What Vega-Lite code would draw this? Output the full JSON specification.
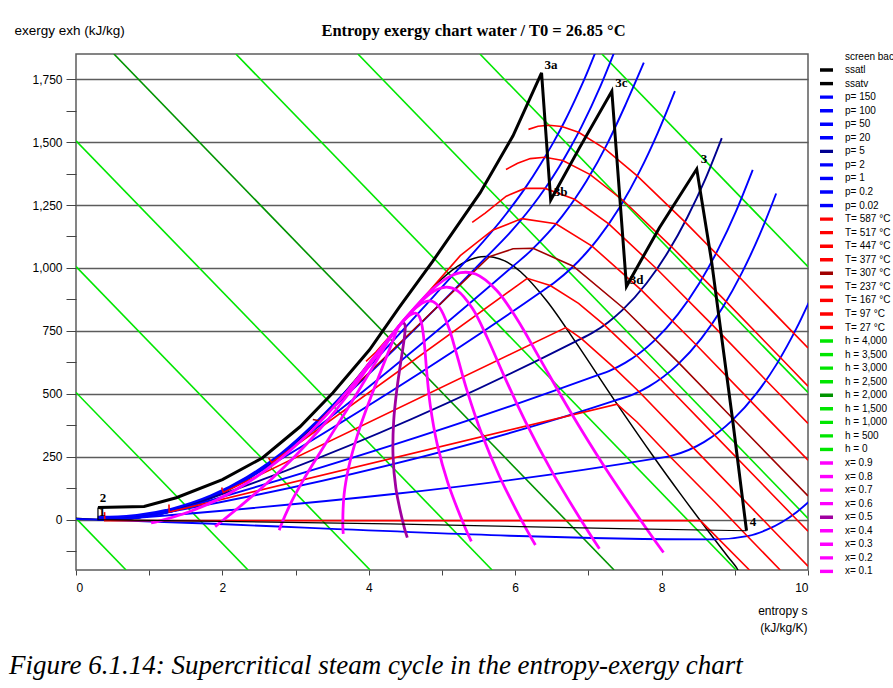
{
"$schema": "https://vega.github.io/schema/vega-lite/v6.json",
"width": 732, "height": 516,
"autosize": {"type": "none"},
"padding": {"left": 76, "top": 54, "right": 85, "bottom": 118},
"background": "white",
"title": {"text": "Figure 6.1.14: Supercritical steam cycle in the entropy-exergy chart", "orient": "bottom", "anchor": "start", "frame": "group", "font": "Liberation Serif", "fontStyle": "italic", "fontWeight": "normal", "fontSize": 27, "color": "black", "dx": -67, "offset": 20},
"config": {
  "font": "Liberation Sans",
  "view": {"stroke": "#5c5c5c", "strokeWidth": 1.5},
  "axis": {"labelFont": "Liberation Sans", "titleFont": "Liberation Sans", "labelFontSize": 12, "titleFontSize": 12, "titleFontWeight": "normal", "labelColor": "#000", "titleColor": "#000", "gridColor": "#5c5c5c", "gridWidth": 1.5, "tickColor": "#444", "domain": false}
},
"datasets": {
"h": [
{"k":"h = 4,000","i":0,"s":7.184,"e":1850},{"k":"h = 4,000","i":1,"s":10,"e":1005.3},
{"k":"h = 3,500","i":0,"s":5.518,"e":1850},{"k":"h = 3,500","i":1,"s":10,"e":505.3},
{"k":"h = 3,000","i":0,"s":3.851,"e":1850},{"k":"h = 3,000","i":1,"s":10,"e":5.3},
{"k":"h = 2,500","i":0,"s":2.184,"e":1850},{"k":"h = 2,500","i":1,"s":9.018,"e":-200},
{"k":"h = 2,000","i":0,"s":0.518,"e":1850},{"k":"h = 2,000","i":1,"s":7.351,"e":-200},
{"k":"h = 1,500","i":0,"s":0,"e":1505.3},{"k":"h = 1,500","i":1,"s":5.684,"e":-200},
{"k":"h = 1,000","i":0,"s":0,"e":1005.3},{"k":"h = 1,000","i":1,"s":4.018,"e":-200},
{"k":"h = 500","i":0,"s":0,"e":505.3},{"k":"h = 500","i":1,"s":2.351,"e":-200},
{"k":"h = 0","i":0,"s":0,"e":5.3},{"k":"h = 0","i":1,"s":0.684,"e":-200}
],
"dome": [
{"k":"ssatl","i":0,"s":0,"e":5.3},{"k":"ssatl","i":1,"s":0.2966,"e":0.3},{"k":"ssatl","i":2,"s":0.5725,"e":1.1},{"k":"ssatl","i":3,"s":0.8312,"e":7.1},{"k":"ssatl","i":4,"s":1.3069,"e":32.3},{"k":"ssatl","i":5,"s":1.8418,"e":85},{"k":"ssatl","i":6,"s":2.3309,"e":158.5},{"k":"ssatl","i":7,"s":2.7927,"e":252.9},{"k":"ssatl","i":8,"s":3.2534,"e":373.3},{"k":"ssatl","i":9,"s":3.7777,"e":542.6},{"k":"ssatl","i":10,"s":4.0139,"e":627.4},{"k":"ssatl","i":11,"s":4.4298,"e":775.7},
{"k":"ssatv","i":0,"s":4.4298,"e":775.7},{"k":"ssatv","i":1,"s":4.9269,"e":936.9},{"k":"ssatv","i":2,"s":5.0526,"e":970.5},{"k":"ssatv","i":3,"s":5.2112,"e":1005.8},{"k":"ssatv","i":4,"s":5.3357,"e":1026.6},{"k":"ssatv","i":5,"s":5.4418,"e":1038.7},{"k":"ssatv","i":6,"s":5.5362,"e":1044.5},{"k":"ssatv","i":7,"s":5.7045,"e":1042.9},{"k":"ssatv","i":8,"s":5.8571,"e":1027.8},{"k":"ssatv","i":9,"s":6.073,"e":984.9},{"k":"ssatv","i":10,"s":6.4323,"e":868.8},{"k":"ssatv","i":11,"s":6.8379,"e":700.4},{"k":"ssatv","i":12,"s":7.3549,"e":474.9},{"k":"ssatv","i":13,"s":7.9096,"e":242},{"k":"ssatv","i":14,"s":8.257,"e":102.5},{"k":"ssatv","i":15,"s":8.6672,"e":-56.8},{"k":"ssatv","i":16,"s":8.9008,"e":-145.1},{"k":"ssatv","i":17,"s":9.0257,"e":-191.8},{"k":"ssatv","i":18,"s":9.05,"e":-205}
],
"p": [
{"k":"p= 150","i":1,"s":0.297,"e":12},{"k":"p= 150","i":2,"s":0.573,"e":13},{"k":"p= 150","i":3,"s":0.831,"e":19},{"k":"p= 150","i":4,"s":1.307,"e":44},{"k":"p= 150","i":5,"s":1.842,"e":96},{"k":"p= 150","i":6,"s":2.331,"e":169},{"k":"p= 150","i":7,"s":2.793,"e":262},{"k":"p= 150","i":8,"s":3.253,"e":381},{"k":"p= 150","i":9,"s":3.685,"e":510},{"k":"p= 150","i":10,"s":5.31,"e":1023},{"k":"p= 150","i":11,"s":5.442,"e":1065},{"k":"p= 150","i":12,"s":5.881,"e":1216.5},{"k":"p= 150","i":13,"s":6.14,"e":1319},{"k":"p= 150","i":14,"s":6.344,"e":1411},{"k":"p= 150","i":15,"s":6.52,"e":1498},{"k":"p= 150","i":16,"s":6.678,"e":1584},{"k":"p= 150","i":17,"s":6.822,"e":1671},{"k":"p= 150","i":18,"s":6.957,"e":1758},{"k":"p= 150","i":19,"s":7.204,"e":1937},
{"k":"p= 100","i":1,"s":0.297,"e":8},{"k":"p= 100","i":2,"s":0.573,"e":9},{"k":"p= 100","i":3,"s":0.831,"e":15},{"k":"p= 100","i":4,"s":1.307,"e":40},{"k":"p= 100","i":5,"s":1.842,"e":92},{"k":"p= 100","i":6,"s":2.331,"e":165},{"k":"p= 100","i":7,"s":2.793,"e":258},{"k":"p= 100","i":8,"s":3.253,"e":377},{"k":"p= 100","i":9,"s":3.36,"e":405},{"k":"p= 100","i":10,"s":5.614,"e":1045.8},{"k":"p= 100","i":11,"s":5.944,"e":1145.4},{"k":"p= 100","i":12,"s":6.212,"e":1238.2},{"k":"p= 100","i":13,"s":6.419,"e":1320.5},{"k":"p= 100","i":14,"s":6.597,"e":1400},{"k":"p= 100","i":15,"s":6.756,"e":1479.4},{"k":"p= 100","i":16,"s":6.903,"e":1559.7},{"k":"p= 100","i":17,"s":7.169,"e":1725.2},{"k":"p= 100","i":18,"s":7.408,"e":1897.8},
{"k":"p= 50","i":1,"s":0.297,"e":4},{"k":"p= 50","i":2,"s":0.573,"e":5},{"k":"p= 50","i":3,"s":0.831,"e":11},{"k":"p= 50","i":4,"s":1.307,"e":36},{"k":"p= 50","i":5,"s":1.842,"e":89},{"k":"p= 50","i":6,"s":2.331,"e":162},{"k":"p= 50","i":7,"s":2.793,"e":256},{"k":"p= 50","i":8,"s":2.92,"e":283.4},{"k":"p= 50","i":9,"s":5.973,"e":1007.6},{"k":"p= 50","i":10,"s":6.211,"e":1067.7},{"k":"p= 50","i":11,"s":6.449,"e":1138.9},{"k":"p= 50","i":12,"s":6.646,"e":1207.2},{"k":"p= 50","i":13,"s":6.819,"e":1275.9},{"k":"p= 50","i":14,"s":6.976,"e":1346.3},{"k":"p= 50","i":15,"s":7.259,"e":1494.1},{"k":"p= 50","i":16,"s":7.512,"e":1651.7},{"k":"p= 50","i":17,"s":7.757,"e":1815.3},
{"k":"p= 20","i":1,"s":0.297,"e":2},{"k":"p= 20","i":2,"s":0.573,"e":3},{"k":"p= 20","i":3,"s":0.831,"e":9},{"k":"p= 20","i":4,"s":1.307,"e":34},{"k":"p= 20","i":5,"s":1.842,"e":87},{"k":"p= 20","i":6,"s":2.331,"e":160},{"k":"p= 20","i":7,"s":2.447,"e":179.9},{"k":"p= 20","i":8,"s":6.341,"e":902.5},{"k":"p= 20","i":9,"s":6.545,"e":944.2},{"k":"p= 20","i":10,"s":6.766,"e":998.9},{"k":"p= 20","i":11,"s":6.956,"e":1055.4},{"k":"p= 20","i":12,"s":7.127,"e":1114.8},{"k":"p= 20","i":13,"s":7.432,"e":1243.4},{"k":"p= 20","i":14,"s":7.702,"e":1384.7},{"k":"p= 20","i":15,"s":7.949,"e":1538.1},{"k":"p= 20","i":16,"s":8.182,"e":1702.7},
{"k":"p= 5","i":1,"s":0.297,"e":0.8},{"k":"p= 5","i":2,"s":0.573,"e":1.6},{"k":"p= 5","i":3,"s":0.831,"e":7.6},{"k":"p= 5","i":4,"s":1.307,"e":32.8},{"k":"p= 5","i":5,"s":1.861,"e":87.3},{"k":"p= 5","i":6,"s":6.821,"e":707.6},{"k":"p= 5","i":7,"s":7.059,"e":742.9},{"k":"p= 5","i":8,"s":7.271,"e":784.7},{"k":"p= 5","i":9,"s":7.46,"e":831.5},{"k":"p= 5","i":10,"s":7.794,"e":939.1},{"k":"p= 5","i":11,"s":8.087,"e":1063},{"k":"p= 5","i":12,"s":8.352,"e":1201.3},{"k":"p= 5","i":13,"s":8.597,"e":1352.6},{"k":"p= 5","i":14,"s":8.822,"e":1515.6},
{"k":"p= 2","i":1,"s":0.297,"e":0.5},{"k":"p= 2","i":2,"s":0.573,"e":1.3},{"k":"p= 2","i":3,"s":0.831,"e":7.3},{"k":"p= 2","i":4,"s":1.307,"e":32.5},{"k":"p= 2","i":5,"s":1.53,"e":51},{"k":"p= 2","i":6,"s":7.127,"e":573.9},{"k":"p= 2","i":7,"s":7.28,"e":590.2},{"k":"p= 2","i":8,"s":7.507,"e":623.8},{"k":"p= 2","i":9,"s":7.893,"e":709.3},{"k":"p= 2","i":10,"s":8.222,"e":815.4},{"k":"p= 2","i":11,"s":8.513,"e":938.4},{"k":"p= 2","i":12,"s":8.777,"e":1076.5},{"k":"p= 2","i":13,"s":9.019,"e":1227.1},{"k":"p= 2","i":14,"s":9.245,"e":1390},
{"k":"p= 1","i":1,"s":0.297,"e":0.4},{"k":"p= 1","i":2,"s":0.573,"e":1.2},{"k":"p= 1","i":3,"s":0.831,"e":7.2},{"k":"p= 1","i":4,"s":1.303,"e":32},{"k":"p= 1","i":5,"s":7.359,"e":473},{"k":"p= 1","i":6,"s":7.613,"e":497.7},{"k":"p= 1","i":7,"s":7.834,"e":530.3},{"k":"p= 1","i":8,"s":8.216,"e":614.9},{"k":"p= 1","i":9,"s":8.544,"e":720.4},{"k":"p= 1","i":10,"s":8.834,"e":843.1},{"k":"p= 1","i":11,"s":9.098,"e":981.4},{"k":"p= 1","i":12,"s":9.34,"e":1132.1},{"k":"p= 1","i":13,"s":9.565,"e":1295.9},
{"k":"p= 0.2","i":1,"s":0.297,"e":0.3},{"k":"p= 0.2","i":2,"s":0.573,"e":1.1},{"k":"p= 0.2","i":3,"s":0.832,"e":7.1},{"k":"p= 0.2","i":4,"s":7.909,"e":242.4},{"k":"p= 0.2","i":5,"s":8.128,"e":253.1},{"k":"p= 0.2","i":6,"s":8.584,"e":309},{"k":"p= 0.2","i":7,"s":8.961,"e":393.5},{"k":"p= 0.2","i":8,"s":9.288,"e":498.5},{"k":"p= 0.2","i":9,"s":9.578,"e":620.9},{"k":"p= 0.2","i":10,"s":9.84,"e":758.7},{"k":"p= 0.2","i":11,"s":10.083,"e":908.7},
{"k":"p= 0.02","i":0,"s":0,"e":3},{"k":"p= 0.02","i":1,"s":0.261,"e":0.6},{"k":"p= 0.02","i":2,"s":8.724,"e":-78.2},{"k":"p= 0.02","i":3,"s":9.191,"e":-64.4},{"k":"p= 0.02","i":4,"s":9.431,"e":-41},{"k":"p= 0.02","i":5,"s":9.647,"e":-9.2},{"k":"p= 0.02","i":6,"s":9.843,"e":29.7},{"k":"p= 0.02","i":7,"s":10.024,"e":74.6}
],
"t": [
{"k":"T= 587 °C","i":0,"s":6.181,"e":1550.5},{"k":"T= 587 °C","i":1,"s":6.312,"e":1562.7},{"k":"T= 587 °C","i":2,"s":6.46,"e":1567},{"k":"T= 587 °C","i":3,"s":6.637,"e":1562},{"k":"T= 587 °C","i":4,"s":6.865,"e":1539},{"k":"T= 587 °C","i":5,"s":7.223,"e":1474},{"k":"T= 587 °C","i":6,"s":7.667,"e":1366},{"k":"T= 587 °C","i":7,"s":8.318,"e":1183},{"k":"T= 587 °C","i":8,"s":9.064,"e":963},{"k":"T= 587 °C","i":9,"s":9.807,"e":740},{"k":"T= 587 °C","i":10,"s":10,"e":682},
{"k":"T= 517 °C","i":0,"s":5.874,"e":1391},{"k":"T= 517 °C","i":1,"s":6.033,"e":1416},{"k":"T= 517 °C","i":2,"s":6.206,"e":1434.5},{"k":"T= 517 °C","i":3,"s":6.404,"e":1440},{"k":"T= 517 °C","i":4,"s":6.651,"e":1427},{"k":"T= 517 °C","i":5,"s":7.025,"e":1371},{"k":"T= 517 °C","i":6,"s":7.479,"e":1267},{"k":"T= 517 °C","i":7,"s":8.133,"e":1085},{"k":"T= 517 °C","i":8,"s":8.879,"e":867},{"k":"T= 517 °C","i":9,"s":9.622,"e":644},{"k":"T= 517 °C","i":10,"s":10,"e":530},
{"k":"T= 447 °C","i":0,"s":5.413,"e":1181},{"k":"T= 447 °C","i":1,"s":5.59,"e":1218},{"k":"T= 447 °C","i":2,"s":5.878,"e":1285},{"k":"T= 447 °C","i":3,"s":6.132,"e":1316},{"k":"T= 447 °C","i":4,"s":6.408,"e":1316},{"k":"T= 447 °C","i":5,"s":6.811,"e":1273},{"k":"T= 447 °C","i":6,"s":7.278,"e":1175},{"k":"T= 447 °C","i":7,"s":7.932,"e":997},{"k":"T= 447 °C","i":8,"s":8.68,"e":778},{"k":"T= 447 °C","i":9,"s":9.423,"e":555},{"k":"T= 447 °C","i":10,"s":10,"e":382},
{"k":"T= 377 °C","i":0,"s":3.962,"e":629},{"k":"T= 377 °C","i":1,"s":4.097,"e":666},{"k":"T= 377 °C","i":2,"s":5.25,"e":1049},{"k":"T= 377 °C","i":3,"s":5.69,"e":1150},{"k":"T= 377 °C","i":4,"s":6.091,"e":1196},{"k":"T= 377 °C","i":5,"s":6.556,"e":1175.5},{"k":"T= 377 °C","i":6,"s":7.049,"e":1087},{"k":"T= 377 °C","i":7,"s":7.72,"e":913},{"k":"T= 377 °C","i":8,"s":8.468,"e":696},{"k":"T= 377 °C","i":9,"s":9.211,"e":473},{"k":"T= 377 °C","i":10,"s":10,"e":236},
{"k":"T= 307 °C","i":0,"s":3.235,"e":398},{"k":"T= 307 °C","i":1,"s":3.321,"e":393},{"k":"T= 307 °C","i":2,"s":5.647,"e":1045},{"k":"T= 307 °C","i":3,"s":5.97,"e":1076},{"k":"T= 307 °C","i":4,"s":6.244,"e":1078},{"k":"T= 307 °C","i":5,"s":6.793,"e":1007},{"k":"T= 307 °C","i":6,"s":7.484,"e":839},{"k":"T= 307 °C","i":7,"s":8.239,"e":622},{"k":"T= 307 °C","i":8,"s":8.982,"e":399},{"k":"T= 307 °C","i":9,"s":10,"e":94},
{"k":"T= 237 °C","i":0,"s":2.63,"e":246},{"k":"T= 237 °C","i":1,"s":2.674,"e":226},{"k":"T= 237 °C","i":2,"s":6.165,"e":959},{"k":"T= 237 °C","i":3,"s":6.479,"e":930},{"k":"T= 237 °C","i":4,"s":6.865,"e":859},{"k":"T= 237 °C","i":5,"s":7.216,"e":774},{"k":"T= 237 °C","i":6,"s":7.656,"e":653},{"k":"T= 237 °C","i":7,"s":7.982,"e":559},{"k":"T= 237 °C","i":8,"s":8.725,"e":336},{"k":"T= 237 °C","i":9,"s":9.788,"e":17.5},{"k":"T= 237 °C","i":10,"s":10,"e":-46},
{"k":"T= 167 °C","i":0,"s":1.99,"e":128},{"k":"T= 167 °C","i":1,"s":2.012,"e":108},{"k":"T= 167 °C","i":2,"s":6.691,"e":763},{"k":"T= 167 °C","i":3,"s":6.905,"e":719},{"k":"T= 167 °C","i":4,"s":7.357,"e":602},{"k":"T= 167 °C","i":5,"s":7.689,"e":509},{"k":"T= 167 °C","i":6,"s":8.431,"e":286},{"k":"T= 167 °C","i":7,"s":9.494,"e":-33},{"k":"T= 167 °C","i":8,"s":10,"e":-185},
{"k":"T= 97 °C","i":0,"s":1.27,"e":60},{"k":"T= 97 °C","i":1,"s":1.273,"e":30},{"k":"T= 97 °C","i":2,"s":7.392,"e":459},{"k":"T= 97 °C","i":3,"s":7.667,"e":387},{"k":"T= 97 °C","i":4,"s":8.09,"e":258},{"k":"T= 97 °C","i":5,"s":8.73,"e":69},{"k":"T= 97 °C","i":6,"s":9.153,"e":-60},{"k":"T= 97 °C","i":7,"s":9.62,"e":-200},
{"k":"T= 27 °C","i":0,"s":0.39,"e":30},{"k":"T= 27 °C","i":1,"s":0.393,"e":-4},{"k":"T= 27 °C","i":2,"s":8.53,"e":-4},{"k":"T= 27 °C","i":3,"s":9.2,"e":-200}
],
"x": [
{"k":"x= 0.1","i":0,"s":4.4298,"e":775.7},{"k":"x= 0.1","i":1,"s":4.105,"e":658.4},{"k":"x= 0.1","i":2,"s":3.921,"e":588.9},{"k":"x= 0.1","i":3,"s":3.74,"e":522.7},{"k":"x= 0.1","i":4,"s":3.498,"e":440.3},{"k":"x= 0.1","i":5,"s":3.121,"e":326.1},{"k":"x= 0.1","i":6,"s":2.741,"e":229.5},{"k":"x= 0.1","i":7,"s":2.341,"e":146.5},{"k":"x= 0.1","i":8,"s":1.912,"e":76.6},{"k":"x= 0.1","i":9,"s":1.539,"e":30.6},{"k":"x= 0.1","i":10,"s":1.134,"e":-5.5},{"k":"x= 0.1","i":11,"s":1.026,"e":-12.7},
{"k":"x= 0.2","i":0,"s":4.4298,"e":775.7},{"k":"x= 0.2","i":1,"s":4.196,"e":689.3},{"k":"x= 0.2","i":2,"s":4.064,"e":635.2},{"k":"x= 0.2","i":3,"s":3.929,"e":580.1},{"k":"x= 0.2","i":4,"s":3.744,"e":507.2},{"k":"x= 0.2","i":5,"s":3.449,"e":399.3},{"k":"x= 0.2","i":6,"s":3.151,"e":300.6},{"k":"x= 0.2","i":7,"s":2.841,"e":208.1},{"k":"x= 0.2","i":8,"s":2.517,"e":120.8},{"k":"x= 0.2","i":9,"s":2.247,"e":54.1},{"k":"x= 0.2","i":10,"s":1.971,"e":-11.2},{"k":"x= 0.2","i":11,"s":1.901,"e":-27.4},
{"k":"x= 0.3","i":0,"s":4.4298,"e":775.7},{"k":"x= 0.3","i":1,"s":4.288,"e":720.3},{"k":"x= 0.3","i":2,"s":4.208,"e":681.6},{"k":"x= 0.3","i":3,"s":4.118,"e":637.4},{"k":"x= 0.3","i":4,"s":3.989,"e":574.2},{"k":"x= 0.3","i":5,"s":3.777,"e":472.5},{"k":"x= 0.3","i":6,"s":3.561,"e":371.6},{"k":"x= 0.3","i":7,"s":3.341,"e":269.6},{"k":"x= 0.3","i":8,"s":3.121,"e":165.1},{"k":"x= 0.3","i":9,"s":2.955,"e":77.6},{"k":"x= 0.3","i":10,"s":2.808,"e":-16.9},{"k":"x= 0.3","i":11,"s":2.776,"e":-42.1},
{"k":"x= 0.4","i":0,"s":4.4298,"e":775.7},{"k":"x= 0.4","i":1,"s":4.379,"e":751.2},{"k":"x= 0.4","i":2,"s":4.351,"e":727.9},{"k":"x= 0.4","i":3,"s":4.307,"e":694.7},{"k":"x= 0.4","i":4,"s":4.234,"e":641.1},{"k":"x= 0.4","i":5,"s":4.105,"e":545.7},{"k":"x= 0.4","i":6,"s":3.971,"e":442.6},{"k":"x= 0.4","i":7,"s":3.84,"e":331.2},{"k":"x= 0.4","i":8,"s":3.726,"e":209.3},{"k":"x= 0.4","i":9,"s":3.663,"e":101.1},{"k":"x= 0.4","i":10,"s":3.645,"e":-22.6},{"k":"x= 0.4","i":11,"s":3.651,"e":-56.8},
{"k":"x= 0.5","i":0,"s":4.4298,"e":775.7},{"k":"x= 0.5","i":1,"s":4.471,"e":782.2},{"k":"x= 0.5","i":2,"s":4.494,"e":774.2},{"k":"x= 0.5","i":3,"s":4.496,"e":752.1},{"k":"x= 0.5","i":4,"s":4.479,"e":708.1},{"k":"x= 0.5","i":5,"s":4.433,"e":618.9},{"k":"x= 0.5","i":6,"s":4.382,"e":513.7},{"k":"x= 0.5","i":7,"s":4.34,"e":392.7},{"k":"x= 0.5","i":8,"s":4.331,"e":253.6},{"k":"x= 0.5","i":9,"s":4.37,"e":124.6},{"k":"x= 0.5","i":10,"s":4.482,"e":-28.3},{"k":"x= 0.5","i":11,"s":4.526,"e":-71.6},
{"k":"x= 0.6","i":0,"s":4.4298,"e":775.7},{"k":"x= 0.6","i":1,"s":4.562,"e":813.1},{"k":"x= 0.6","i":2,"s":4.638,"e":820.5},{"k":"x= 0.6","i":3,"s":4.685,"e":809.4},{"k":"x= 0.6","i":4,"s":4.724,"e":775.1},{"k":"x= 0.6","i":5,"s":4.761,"e":692.1},{"k":"x= 0.6","i":6,"s":4.792,"e":584.7},{"k":"x= 0.6","i":7,"s":4.84,"e":454.2},{"k":"x= 0.6","i":8,"s":4.936,"e":297.9},{"k":"x= 0.6","i":9,"s":5.078,"e":148},{"k":"x= 0.6","i":10,"s":5.319,"e":-34},{"k":"x= 0.6","i":11,"s":5.401,"e":-86.3},
{"k":"x= 0.7","i":0,"s":4.4298,"e":775.7},{"k":"x= 0.7","i":1,"s":4.653,"e":844.1},{"k":"x= 0.7","i":2,"s":4.781,"e":866.8},{"k":"x= 0.7","i":3,"s":4.874,"e":866.7},{"k":"x= 0.7","i":4,"s":4.969,"e":842},{"k":"x= 0.7","i":5,"s":5.089,"e":765.3},{"k":"x= 0.7","i":6,"s":5.202,"e":655.7},{"k":"x= 0.7","i":7,"s":5.339,"e":515.8},{"k":"x= 0.7","i":8,"s":5.541,"e":342.1},{"k":"x= 0.7","i":9,"s":5.786,"e":171.5},{"k":"x= 0.7","i":10,"s":6.156,"e":-39.7},{"k":"x= 0.7","i":11,"s":6.276,"e":-101},
{"k":"x= 0.8","i":0,"s":4.4298,"e":775.7},{"k":"x= 0.8","i":1,"s":4.745,"e":875},{"k":"x= 0.8","i":2,"s":4.924,"e":913.2},{"k":"x= 0.8","i":3,"s":5.063,"e":924},{"k":"x= 0.8","i":4,"s":5.214,"e":909},{"k":"x= 0.8","i":5,"s":5.417,"e":838.5},{"k":"x= 0.8","i":6,"s":5.612,"e":726.7},{"k":"x= 0.8","i":7,"s":5.839,"e":577.3},{"k":"x= 0.8","i":8,"s":6.145,"e":386.4},{"k":"x= 0.8","i":9,"s":6.494,"e":195},{"k":"x= 0.8","i":10,"s":6.993,"e":-45.4},{"k":"x= 0.8","i":11,"s":7.151,"e":-115.7},
{"k":"x= 0.9","i":0,"s":4.4298,"e":775.7},{"k":"x= 0.9","i":1,"s":4.836,"e":906},{"k":"x= 0.9","i":2,"s":5.068,"e":959.5},{"k":"x= 0.9","i":3,"s":5.253,"e":981.4},{"k":"x= 0.9","i":4,"s":5.459,"e":975.9},{"k":"x= 0.9","i":5,"s":5.745,"e":911.7},{"k":"x= 0.9","i":6,"s":6.022,"e":797.8},{"k":"x= 0.9","i":7,"s":6.338,"e":638.9},{"k":"x= 0.9","i":8,"s":6.75,"e":430.6},{"k":"x= 0.9","i":9,"s":7.202,"e":218.5},{"k":"x= 0.9","i":10,"s":7.83,"e":-51.1},{"k":"x= 0.9","i":11,"s":8.026,"e":-130.4}
],
"cyc": [
{"i":0,"s":0.3,"e":48},{"i":1,"s":0.93,"e":52},{"i":2,"s":1.37,"e":87},{"i":3,"s":2.0,"e":159},{"i":4,"s":2.55,"e":246},{"i":5,"s":3.06,"e":369},{"i":6,"s":3.51,"e":504},{"i":7,"s":4.01,"e":675},{"i":8,"s":4.42,"e":845},{"i":9,"s":4.87,"e":1025},{"i":10,"s":5.52,"e":1298},{"i":11,"s":5.97,"e":1525},{"i":12,"s":6.36,"e":1775},{"i":13,"s":6.485,"e":1270},{"i":14,"s":6.88,"e":1478},{"i":15,"s":7.32,"e":1702},{"i":16,"s":7.52,"e":927},{"i":17,"s":7.97,"e":1160},{"i":18,"s":8.48,"e":1393},{"i":19,"s":8.68,"e":1032},{"i":20,"s":8.97,"e":397},{"i":21,"s":9.16,"e":-44}
],
"cyc2": [
{"i":0,"s":9.16,"e":-44},{"i":1,"s":7.43,"e":-36},{"i":2,"s":4.29,"e":-17},{"i":3,"s":0.3,"e":0},{"i":4,"s":0.3,"e":48}
],
"lab": [
{"t":"3a","s":6.49,"e":1807},{"t":"3b","s":6.62,"e":1302},{"t":"3c","s":7.45,"e":1734},{"t":"3d","s":7.66,"e":952},{"t":"3","s":8.58,"e":1433},{"t":"4","s":9.25,"e":-10},{"t":"2","s":0.37,"e":85},{"t":"1","s":0.355,"e":30}
]
},
"encoding": {
  "y": {"field": "e", "type": "quantitative", "scale": {"domain": [-200, 1850], "nice": false, "zero": false},
    "axis": {"values": [-125,0,125,250,375,500,625,750,875,1000,1125,1250,1375,1500,1625,1750], "labelExpr": "datum.value % 250 === 0 ? format(datum.value, ',') : ''", "gridOpacity": {"condition": {"test": "datum.value % 250 === 0", "value": 1}, "value": 0}, "title": "exergy exh (kJ/kg)", "titleFontSize": 13.5, "titleAngle": 0, "titleX": -62, "titleY": -24, "titleAlign": "left", "titleBaseline": "middle", "tickSize": 10, "labelPadding": 4}},
  "color": {"field": "k", "type": "nominal",
    "scale": {"domain": ["screen background","ssatl","ssatv","p= 150","p= 100","p= 50","p= 20","p= 5","p= 2","p= 1","p= 0.2","p= 0.02","T= 587 °C","T= 517 °C","T= 447 °C","T= 377 °C","T= 307 °C","T= 237 °C","T= 167 °C","T= 97 °C","T= 27 °C","h = 4,000","h = 3,500","h = 3,000","h = 2,500","h = 2,000","h = 1,500","h = 1,000","h = 500","h = 0","x= 0.9","x= 0.8","x= 0.7","x= 0.6","x= 0.5","x= 0.4","x= 0.3","x= 0.2","x= 0.1"],
      "range": ["white","black","black","#0000ff","#0000ff","#0000ff","#0000ff","#000090","#0000ff","#0000ff","#0000ff","#0000ff","#ff0000","#ff0000","#ff0000","#ff0000","#a00000","#ff0000","#ff0000","#ff0000","#ff0000","#00e600","#00e600","#00e600","#00e600","#009400","#00e600","#00e600","#00e600","#00e600","#ff00ff","#ff00ff","#ff00ff","#ff00ff","#a000a0","#ff00ff","#ff00ff","#ff00ff","#ff00ff"]},
    "legend": {"orient": "none", "legendX": 742, "legendY": -4, "title": null, "symbolType": "stroke", "symbolStrokeWidth": 3.4, "symbolSize": 169, "clipHeight": 13, "labelFontSize": 10, "labelFont": "Liberation Sans", "labelColor": "#000", "labelOffset": 10, "rowPadding": 0.55, "symbolLimit": 50, "labelLimit": 300, "padding": 0}}
},
"layer": [
  {"data": {"name": "h"}, "mark": {"type": "line", "strokeWidth": 1.6, "clip": true},
   "encoding": {"x": {"field": "s", "type": "quantitative", "scale": {"domain": [0, 10], "nice": false, "zero": false},
      "axis": {"orient": "top", "labels": false, "ticks": false, "domain": false, "grid": false, "title": "Entropy exergy chart water / T0 = 26.85 °C", "titleFont": "Liberation Serif", "titleFontSize": 16.5, "titleFontWeight": "bold", "titleX": 397, "titleY": -19, "titleAlign": "center", "titleBaseline": "alphabetic"}},
     "order": {"field": "i"}}},
  {"encoding": {"x": {"field": "s", "type": "quantitative", "scale": {"domain": [0, 10], "nice": false, "zero": false},
      "axis": {"values": [0,1,2,3,4,5,6,7,8,9,10], "labelExpr": "datum.value % 2 === 0 ? datum.label : ''", "gridOpacity": {"condition": {"test": "datum.value % 2 === 0", "value": 1}, "value": 0}, "title": ["entropy s", "(kJ/kg/K)"], "titleAlign": "right", "titleX": 731, "titleY": 44, "titleBaseline": "alphabetic", "titleLineHeight": 17, "tickSize": 5, "labelPadding": 7}}},
   "layer": [
     {"data": {"name": "dome"}, "mark": {"type": "line", "strokeWidth": 1.5, "clip": true, "interpolate": "catmull-rom"}, "encoding": {"order": {"field": "i"}}},
     {"data": {"name": "p"}, "mark": {"type": "line", "strokeWidth": 1.9, "clip": true, "interpolate": "monotone"}, "encoding": {"order": {"field": "i"}}},
     {"data": {"name": "t"}, "mark": {"type": "line", "strokeWidth": 1.6, "clip": true}, "encoding": {"order": {"field": "i"}}},
     {"data": {"name": "x"}, "mark": {"type": "line", "strokeWidth": 2.8, "clip": true, "interpolate": "catmull-rom"}, "encoding": {"order": {"field": "i"}}},
     {"data": {"name": "cyc"}, "mark": {"type": "line", "strokeWidth": 3, "clip": true, "color": "black"}, "encoding": {"order": {"field": "i"}, "color": {"value": "black"}}},
     {"data": {"name": "cyc2"}, "mark": {"type": "line", "strokeWidth": 1.2, "clip": true, "color": "black"}, "encoding": {"order": {"field": "i"}, "color": {"value": "black"}}},
     {"data": {"name": "lab"}, "mark": {"type": "text", "font": "Liberation Serif", "fontWeight": "bold", "fontSize": 13, "align": "center", "baseline": "middle"}, "encoding": {"text": {"field": "t"}, "color": {"value": "black"}}}
   ]}
],
"resolve": {"axis": {"x": "independent"}}
}
